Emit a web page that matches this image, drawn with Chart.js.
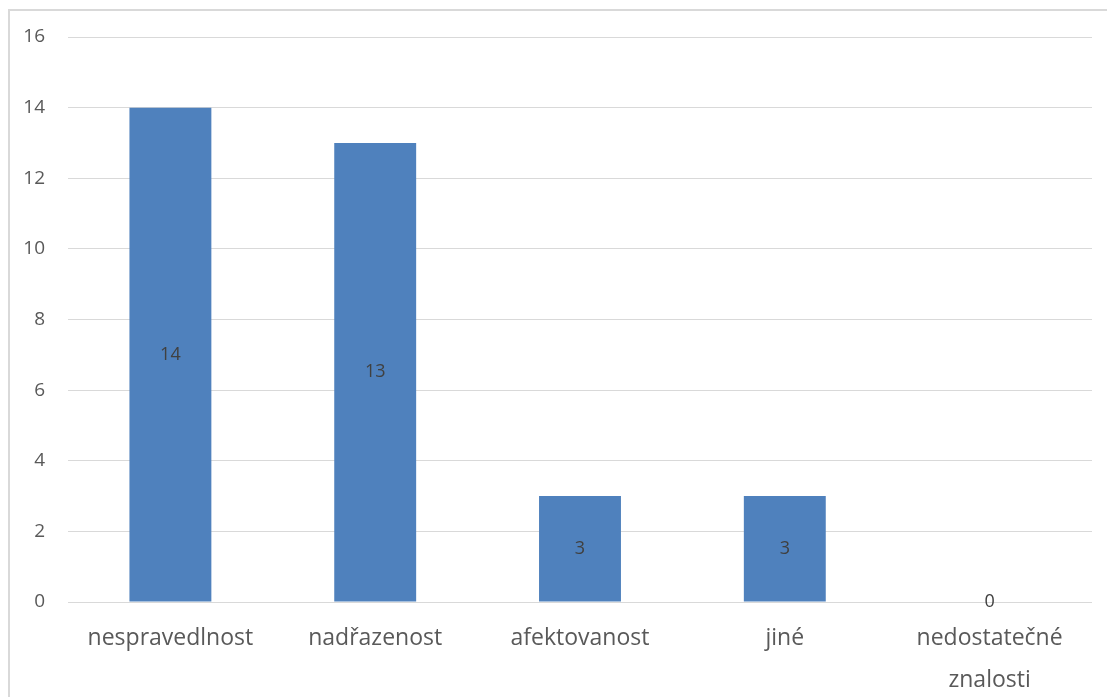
<!DOCTYPE html>
<html>
<head>
<meta charset="utf-8">
<script src="https://cdn.jsdelivr.net/npm/chart.js@4"></script>
<style>
  html, body { margin: 0; padding: 0; background: #fff; }
  #wrap { position: relative; width: 1107px; height: 697px; }
</style>
</head>
<body>
<div id="wrap"><canvas id="reasonsChart" width="1107" height="697"></canvas></div>
<script>
const categories = ['nespravedlnost', 'nadřazenost', 'afektovanost', 'jiné', ['nedostatečné', 'znalosti']];
const counts = [14, 13, 3, 3, 0];
const yMax = 16;
const yStep = 2;

const FONT = "'Open Sans', 'Noto Sans', sans-serif";

// light frame around the chart
const framePlugin = {
  id: 'frame',
  beforeDraw(chart) {
    const ctx = chart.ctx;
    ctx.save();
    ctx.strokeStyle = '#d9d9d9';
    ctx.lineWidth = 2;
    ctx.strokeRect(9, 10, chart.width + 20, chart.height + 20);
    ctx.restore();
  }
};

// value printed in the middle of each bar
const valueLabels = {
  id: 'valueLabels',
  afterDatasetsDraw(chart) {
    const ctx = chart.ctx;
    const meta = chart.getDatasetMeta(0);
    ctx.save();
    ctx.font = '18px ' + FONT;
    ctx.fillStyle = '#404040';
    ctx.textAlign = 'center';
    ctx.textBaseline = 'middle';
    meta.data.forEach((bar, i) => {
      const y = (bar.y + bar.base) / 2;
      ctx.fillText(String(counts[i]), bar.x, y);
    });
    ctx.restore();
  }
};

new Chart(document.getElementById('reasonsChart'), {
  type: 'bar',
  data: {
    labels: categories,
    datasets: [{
      data: counts,
      backgroundColor: '#4f81bd',
      borderWidth: 0,
      barPercentage: 0.4,
      categoryPercentage: 1
    }]
  },
  options: {
    responsive: false,
    animation: false,
    layout: { padding: { top: 37, right: 15, left: 0, bottom: 0 } },
    plugins: { legend: { display: false }, tooltip: { enabled: false } },
    scales: {
      x: {
        grid: { display: false },
        border: { display: false },
        ticks: {
          color: '#595959',
          font: { family: FONT, size: 23, lineHeight: 1.85 },
          padding: 7,
          maxRotation: 0,
          autoSkip: false
        },
        afterFit(scale) { scale.height = 95; }
      },
      y: {
        min: 0,
        max: yMax,
        ticks: {
          stepSize: yStep,
          color: '#595959',
          font: { family: FONT, size: 19 },
          padding: 23
        },
        grid: { color: '#d9d9d9', lineWidth: 1, drawTicks: false },
        border: { display: false },
        afterFit(scale) { scale.width = 68; }
      }
    }
  },
  plugins: [framePlugin, valueLabels]
});
</script>
</body>
</html>
